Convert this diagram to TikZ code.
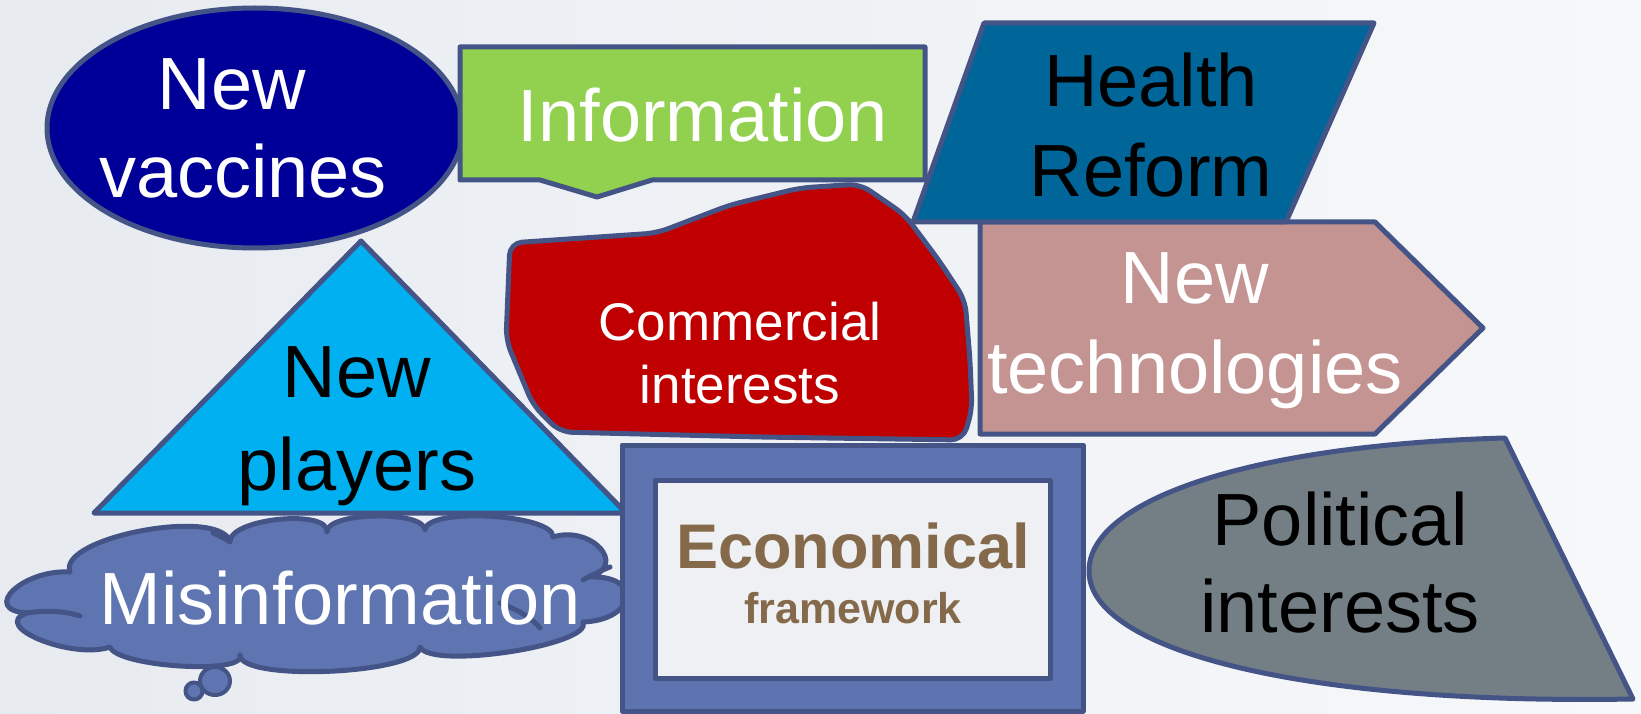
\documentclass[tikz,border=0pt]{standalone}
\usepackage{fontspec}
\setmainfont{Liberation Sans}
\usetikzlibrary{shapes.geometric}
\definecolor{edge}{RGB}{68,84,134}
\definecolor{vacc}{RGB}{0,0,153}
\definecolor{info}{RGB}{146,208,80}
\definecolor{health}{RGB}{0,102,153}
\definecolor{tech}{RGB}{196,148,146}
\definecolor{comm}{RGB}{192,0,0}
\definecolor{play}{RGB}{0,176,240}
\definecolor{misinf}{RGB}{95,117,178}
\definecolor{econ}{RGB}{94,116,177}
\definecolor{econin}{RGB}{238,240,244}
\definecolor{econtxt}{RGB}{132,105,74}
\definecolor{polit}{RGB}{115,127,133}
\definecolor{bgl}{RGB}{231,235,240}
\definecolor{bgr}{RGB}{247,248,250}
\begin{document}
\begin{tikzpicture}[x=1pt,y=-1pt,
  shp/.style={draw=edge,line width=5pt,line join=round},
  big/.style={font=\fontsize{74}{88}\selectfont,inner sep=0pt,anchor=base},
  mid/.style={font=\fontsize{53}{63}\selectfont,inner sep=0pt,anchor=base},
  econtext/.style={inner sep=0pt,anchor=base,text=econtxt},
]
\useasboundingbox (0,0) rectangle (1641,714);
\fill[left color=bgl,right color=bgr] (0,0) rectangle (1641,714);

% New vaccines
\node[shp,ellipse,fill=vacc,minimum width=416pt,minimum height=240pt,inner sep=0pt] (vacc) at (255,128) {};
\node[big,white] (vaccA) at (232,110) {New};
\node[big,white] (vaccB) at (243,198) {vaccines};

% Information callout
\draw[shp,fill=info] (460,47) -- (925,47) -- (925,180) -- (652,180) -- (597,197) -- (540,180) -- (460,180) -- cycle;
\node[big,white] (infoT) at (703,142) {Information};

% New players
\draw[shp,fill=play] (361,241) -- (626,513) -- (94,513) -- cycle;
\node[big,black] (playA) at (357,397) {New};
\node[big,black] (playB) at (357,490) {players};

% New technologies
\draw[shp,fill=tech] (980,222) -- (1375,222) -- (1483,328) -- (1375,434) -- (980,434) -- cycle;
\node[big,white] (techA) at (1195,303) {New};
\node[big,white] (techB) at (1195,393) {technologies};

% Commercial interests
\draw[shp,fill=comm,rounded corners=12pt] (510,243) -- (657,233) -- (730,205) -- (800,188) -- (860,184) -- (905,215) -- (940,262) -- (965,300) -- (970,360) -- (972,410) -- (963,440) -- (760,437) -- (560,432) -- (533,405) -- (506,340) -- cycle;
\node[mid,white] (commA) at (740,340) {Commercial};
\node[mid,white] (commB) at (740,403) {interests};

% Health Reform
\draw[shp,fill=health] (984,23) -- (1374,23) -- (1286,222) -- (913,222) -- cycle;
\node[big,black] (healthA) at (1151,107) {Health};
\node[big,black] (healthB) at (1151,197) {Reform};

% Misinformation cloud
\draw[shp,fill=misinf] (27,613)
  .. controls (-20,610) and (23,569) .. (70,572)
  .. controls (57,538) and (217,507) .. (230,541)
  .. controls (232,518) and (329,509) .. (327,532)
  .. controls (326,512) and (424,510) .. (425,530)
  .. controls (426,507) and (554,514) .. (553,537)
  .. controls (591,525) and (628,565) .. (590,577)
  .. controls (643,575) and (636,620) .. (583,622)
  .. controls (594,645) and (431,670) .. (420,647)
  .. controls (420,674) and (240,682) .. (240,655)
  .. controls (247,675) and (117,667) .. (110,647)
  .. controls (72,660) and (-11,626) .. (27,613) -- cycle;
\draw[draw=edge,line width=5pt,line cap=round] (27,613) .. controls (45,610) and (65,611) .. (80,616);
\draw[draw=edge,line width=5pt,line cap=round] (500,603) .. controls (518,610) and (532,618) .. (540,628);
\draw[draw=edge,line width=5pt,line cap=round] (583,580) .. controls (592,575) and (602,570) .. (610,567);
\draw[draw=edge,line width=5pt,line cap=round] (213,533) .. controls (220,536) and (226,539) .. (230,542);
\node[shp,ellipse,fill=misinf,minimum width=30pt,minimum height=28pt,inner sep=0pt,line width=4pt] (bubA) at (215,681) {};
\node[shp,circle,fill=misinf,minimum size=17pt,inner sep=0pt,line width=4pt] (bubB) at (194,691) {};
\node[big,white] (misT) at (340,624) {Misinformation};

% Economical framework
\draw[shp,fill=econ] (622,445) rectangle (1083,711);
\draw[shp,fill=econin] (655,480) rectangle (1050,678);
\node[econtext,font=\fontsize{63}{70}\selectfont\bfseries] (econA) at (853,568) {Economical};
\node[econtext,font=\fontsize{43}{50}\selectfont\bfseries] (econB) at (853,623) {framework};

% Political interests
\draw[shp,fill=polit] (1505,438) -- (1633,699) .. controls (1300,705) and (1089,650) .. (1089,571) .. controls (1089,500) and (1250,445) .. (1505,438) -- cycle;
\node[big,black] (polA) at (1340,545) {Political};
\node[big,black] (polB) at (1340,632) {interests};
\end{tikzpicture}
\end{document}
